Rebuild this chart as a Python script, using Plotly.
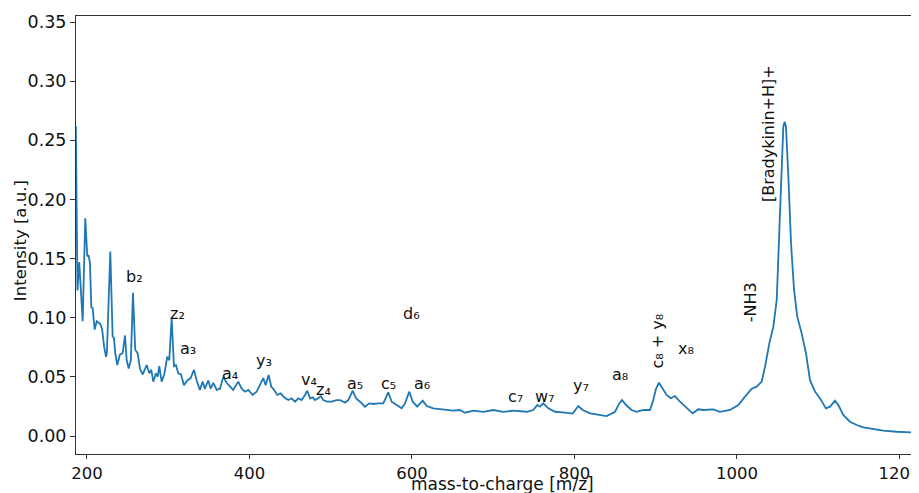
import plotly.graph_objects as go

mz = [186.3, 187.2, 188.3, 190.5, 192.5, 194.7, 197.9, 200.4, 202.0, 203.7, 205.3, 207.0, 209.5,
      212.0, 216.0, 218.5, 221.0, 223.4, 224.5, 228.7, 231.6, 233.2, 234.8, 237.3, 240.6, 243.9,
      246.8, 248.9, 251.3, 254.0, 256.6, 259.4, 262.4, 265.2, 268.5, 273.5, 276.7, 279.1, 281.6,
      284.9, 287.0, 289.0, 291.9, 295.1, 298.8, 301.3, 304.2, 307.1, 309.5, 312.4, 315.7, 319.4,
      323.5, 327.6, 331.7, 335.0, 339.0, 342.4, 345.2, 349.3, 352.3, 355.5, 359.6, 363.7, 367.8,
      371.9, 376.0, 380.0, 386.2, 390.4, 394.4, 398.5, 403.9, 408.8, 413.8, 417.0, 419.9, 423.6,
      426.8, 430.2, 434.2, 438.4, 442.5, 447.8, 451.9, 456.0, 460.1, 464.2, 468.3, 471.1, 474.5,
      477.8, 480.6, 484.7, 487.7, 490.8, 495.8, 501.2, 507.3, 511.4, 517.5, 521.6, 527.0, 531.1,
      536.0, 542.2, 547.5, 552.4, 558.6, 564.7, 570.8, 575.0, 581.2, 587.3, 591.4, 596.7, 600.9,
      606.5, 613.2, 618.1, 626.2, 634.4, 642.7, 650.8, 659.0, 665.2, 675.5, 687.8, 700.0, 712.4,
      724.7, 741.2, 749.3, 754.3, 757.6, 761.6, 767.8, 776.0, 788.3, 797.8, 804.7, 810.1, 819.1,
      829.3, 839.6, 849.9, 855.2, 858.5, 863.4, 870.3, 876.5, 884.7, 892.9, 897.0, 900.3, 904.0,
      908.5, 913.4, 918.4, 923.7, 929.8, 938.0, 945.4, 952.3, 958.5, 970.8, 979.1, 991.4, 1001.6,
      1009.9, 1018.1, 1024.2, 1030.4, 1034.5, 1039.8, 1044.7, 1048.9, 1052.0, 1055.0, 1057.0,
      1058.6, 1060.3, 1063.2, 1066.5, 1070.2, 1074.2, 1079.6, 1084.9, 1089.8, 1096.0, 1102.1,
      1109.5, 1114.5, 1120.6, 1124.7, 1130.8, 1139.0, 1147.3, 1155.5, 1167.8, 1180.0, 1196.5,
      1212.9, 1224.0]

intensity = [0.262, 0.200, 0.123, 0.147, 0.125, 0.097, 0.184, 0.152, 0.153, 0.146, 0.109, 0.108, 0.090,
             0.097, 0.095, 0.091, 0.076, 0.067, 0.070, 0.156, 0.084, 0.083, 0.070, 0.060, 0.069, 0.070,
             0.085, 0.064, 0.057, 0.064, 0.121, 0.073, 0.070, 0.057, 0.052, 0.060, 0.053, 0.056, 0.046,
             0.053, 0.050, 0.059, 0.046, 0.052, 0.067, 0.064, 0.0995, 0.059, 0.060, 0.053, 0.052, 0.043,
             0.047, 0.049, 0.056, 0.047, 0.039, 0.046, 0.040, 0.047, 0.040, 0.045, 0.039, 0.040, 0.050,
             0.045, 0.042, 0.039, 0.046, 0.040, 0.0375, 0.039, 0.0347, 0.0375, 0.0446, 0.049, 0.043, 0.0516,
             0.0417, 0.039, 0.0347, 0.036, 0.0327, 0.0304, 0.0319, 0.029, 0.0319, 0.0304, 0.0347, 0.0383, 0.0319,
             0.0327, 0.0304, 0.0319, 0.0338, 0.0304, 0.029, 0.029, 0.0304, 0.0304, 0.0282, 0.0304, 0.0383, 0.0319,
             0.029, 0.0248, 0.0276, 0.0271, 0.0276, 0.0276, 0.037, 0.029, 0.0262, 0.0234, 0.0276, 0.0375, 0.029,
             0.0248, 0.0299, 0.0254, 0.0234, 0.0226, 0.022, 0.0214, 0.022, 0.0197, 0.0214, 0.0205, 0.022, 0.0205,
             0.0214, 0.0205, 0.022, 0.0262, 0.0248, 0.0276, 0.0234, 0.0205, 0.0197, 0.019, 0.0254, 0.022, 0.0192,
             0.0178, 0.0169, 0.0205, 0.0276, 0.0304, 0.0262, 0.022, 0.0205, 0.022, 0.022, 0.0304, 0.040, 0.0451,
             0.040, 0.0347, 0.0319, 0.0338, 0.029, 0.0234, 0.0192, 0.0226, 0.022, 0.0226, 0.0205, 0.022, 0.0262,
             0.0333, 0.040, 0.0417, 0.046, 0.0586, 0.0783, 0.0924, 0.115, 0.1714, 0.2277, 0.2615,
             0.2658, 0.2615, 0.2193, 0.163, 0.1235, 0.1009, 0.0868, 0.070, 0.0474, 0.0375, 0.0319,
             0.0234, 0.0248, 0.0299, 0.0262, 0.0178, 0.0121, 0.0093, 0.0074, 0.0057, 0.0045, 0.0036,
             0.0028, 0.0028]

labels = ["b\u2082", "z\u2082", "a\u2083", "a\u2084", "y\u2083", "v\u2084", "z\u2084", "a\u2085", "c\u2085",
          "a\u2086", "d\u2086", "c\u2087", "w\u2087", "y\u2087", "a\u2088", "c\u2088 + y\u2088", "x\u2088",
          "-NH3", "[Bradykinin+H]+"]
label_mz = [259.0, 310.8, 324.3, 376.0, 417.8, 473.2, 491.7, 529.8, 571.7,
            612.3, 600.0, 726.8, 763.7, 808.0, 856.0, 901.6, 937.2,
            1016.0, 1038.0]
label_int = [0.1345, 0.104, 0.0744, 0.053, 0.064, 0.048, 0.039, 0.044, 0.044,
             0.044, 0.104, 0.033, 0.0338, 0.043, 0.052, 0.080, 0.074,
             0.113, 0.256]
label_angle = [0, 0, 0, 0, 0, 0, 0, 0, 0, 0, 0, 0, 0, 0, 0, -90, 0, -90, -90]

x_ticks = [200, 400, 600, 800, 1000, 1200]
y_ticks = [0.00, 0.05, 0.10, 0.15, 0.20, 0.25, 0.30, 0.35]

font = "DejaVu Sans"

fig = go.Figure()
fig.add_trace(go.Scatter(x=mz, y=intensity, mode="lines",
                         line=dict(color="#1f77b4", width=1.8), showlegend=False))

for t, xv, yv, ang in zip(labels, label_mz, label_int, label_angle):
    fig.add_annotation(x=xv, y=yv, text=t, showarrow=False, textangle=ang,
                       font=dict(family=font, size=16, color="#111111"),
                       xanchor="center", yanchor="middle")

# axis titles
fig.add_annotation(x=0.5065, y=-0.069, xref="paper", yref="paper", text="mass-to-charge [m/z]",
                   showarrow=False, xanchor="center", yanchor="middle",
                   font=dict(family=font, size=17, color="#111111"))
fig.add_annotation(x=-0.0664, y=0.486, xref="paper", yref="paper", text="Intensity [a.u.]",
                   showarrow=False, textangle=-90, xanchor="center", yanchor="middle",
                   font=dict(family=font, size=16.5, color="#111111"))

axis_common = dict(showline=True, linecolor="#333333", linewidth=1, mirror=True,
                   ticks="outside", tickwidth=1, tickcolor="#333333",
                   showgrid=False, zeroline=False, automargin=False,
                   ticklabeloverflow="allow")

fig.update_xaxes(range=[186.5, 1224.0], tickvals=x_ticks, ticklen=4,
                 ticktext=[str(v) for v in x_ticks],
                 tickfont=dict(family=font, size=16.5, color="#111111"), **axis_common)
fig.update_yaxes(range=[-0.0152, 0.3551], tickvals=y_ticks, ticklen=5,
                 ticktext=[f"{v:.2f}" for v in y_ticks],
                 tickfont=dict(family=font, size=17.5, color="#111111"), **axis_common)

# the page body adds an 8 px offset; compensate so the plot area lands where the reference has it
fig.update_layout(width=911, height=485, margin=dict(l=68, r=0, t=8, b=39),
                  plot_bgcolor="white", paper_bgcolor="white")

fig.write_html("out.html")
